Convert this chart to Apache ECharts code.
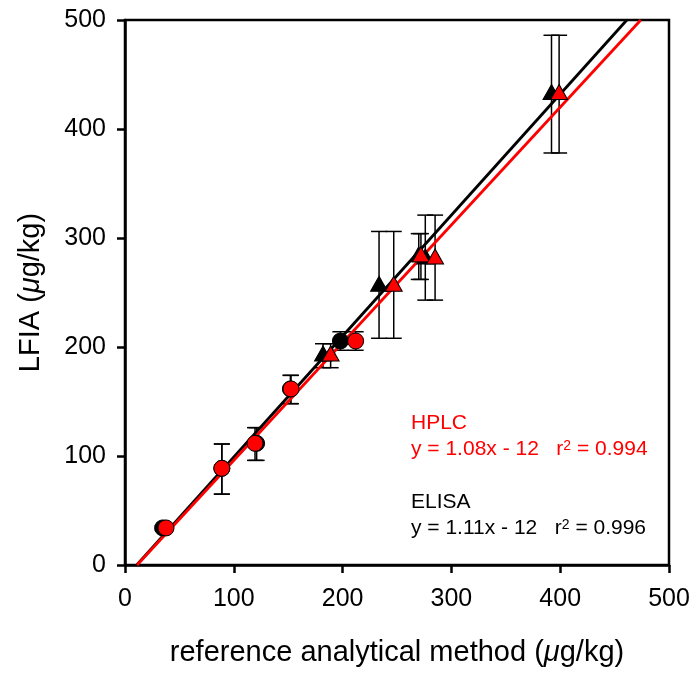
<!DOCTYPE html>
<html>
<head>
<meta charset="utf-8">
<script src="https://cdn.jsdelivr.net/npm/echarts@6/dist/echarts.min.js"></script>
<style>html,body{margin:0;padding:0;background:#fff}#c{width:697px;height:675px}</style>
</head>
<body>
<div id="c"></div>
<script>
// Circles (one sample set): LFIA value and error range, reference values by method
var circleLFIA = [34, 88.7, 111.6, 161.5, 205.5];
var circleErrLow = [32, 65, 96, 148, 197];
var circleErrHigh = [36, 111, 126, 174, 214];
var circleELISA = [34.6, 89, 121, 152, 198];
var circleHPLC = [37.7, 89, 119.5, 152.6, 212];

// Triangles (second sample set)
var triLFIA = [194, 258, 285, 283, 434];
var triErrLow = [181, 208, 262, 243, 378];
var triErrHigh = [203, 306, 304, 321, 486];
var triELISA = [182, 233.5, 270, 276, 392];
var triHPLC = [189, 247, 272, 285, 399];

// Regression fits (slope, intercept) from the chart annotation
var hplcFit = {slope: 1.08, intercept: -12};
var elisaFit = {slope: 1.11, intercept: -12};

var axisTicks = [0, 100, 200, 300, 400, 500];

var FONT = 'Liberation Sans, Arial, sans-serif';

function pairs(xs, ys) { return xs.map(function (x, i) { return [x, ys[i]]; }); }
function errs(xs, lo, hi) { return xs.map(function (x, i) { return [x, lo[i], hi[i]]; }); }
function fitLine(f) {
  var x0 = (0 - f.intercept) / f.slope;
  var x1 = (500 - f.intercept) / f.slope;
  return [[x0, 0], [x1, 500]];
}

var errData = []
  .concat(errs(circleELISA, circleErrLow, circleErrHigh))
  .concat(errs(circleHPLC, circleErrLow, circleErrHigh))
  .concat(errs(triELISA, triErrLow, triErrHigh))
  .concat(errs(triHPLC, triErrLow, triErrHigh));

function renderErr(params, api) {
  var x = api.value(0);
  var lo = api.coord([x, api.value(1)]);
  var hi = api.coord([x, api.value(2)]);
  var hw = 8;
  var st = {stroke: '#000', lineWidth: 1.5};
  return {
    type: 'group',
    children: [
      {type: 'line', shape: {x1: lo[0], y1: lo[1], x2: hi[0], y2: hi[1]}, style: st},
      {type: 'line', shape: {x1: lo[0] - hw, y1: lo[1], x2: lo[0] + hw, y2: lo[1]}, style: st},
      {type: 'line', shape: {x1: hi[0] - hw, y1: hi[1], x2: hi[0] + hw, y2: hi[1]}, style: st}
    ]
  };
}

var chart = echarts.init(document.getElementById('c'), null, {renderer: 'canvas'});

var axisCommon = {
  type: 'value', min: 0, max: 500, interval: 100,
  splitLine: {show: false},
  axisLine: {show: true, onZero: false, lineStyle: {color: '#000', width: 2.5}},
  axisTick: {show: true, inside: false, length: 8, lineStyle: {color: '#000', width: 2.5}},
  axisLabel: {color: '#000', fontSize: 25, fontFamily: FONT,
    formatter: function (v) { return axisTicks.indexOf(v) >= 0 ? String(v) : ''; }},
  nameLocation: 'middle',
  nameTextStyle: {color: '#000', fontSize: 29, fontFamily: FONT,
    rich: {i: {fontStyle: 'italic', fontSize: 29, fontFamily: FONT, color: '#000'}}}
};

function annot(top, text, color) {
  return {type: 'text', left: 411, top: top, style: {
    text: text, fill: color, fontSize: 21, fontFamily: FONT,
    rich: {s: {fontSize: 14, fontFamily: FONT, fill: color, color: color, verticalAlign: 'top', lineHeight: 14}}
  }};
}

var option = {
  backgroundColor: '#fff',
  animation: false,
  grid: {left: 125, right: 28, top: 20, bottom: 110, show: true, borderColor: '#000', borderWidth: 2.5, backgroundColor: 'transparent'},
  xAxis: Object.assign({}, axisCommon, {
    name: 'reference analytical method ({i|μ}g/kg)',
    nameGap: 73,
    axisLabel: Object.assign({}, axisCommon.axisLabel, {margin: 22})
  }),
  yAxis: Object.assign({}, axisCommon, {
    name: 'LFIA ({i|μ}g/kg)',
    nameGap: 80,
    axisLabel: Object.assign({}, axisCommon.axisLabel, {margin: 19})
  }),
  series: [
    {type: 'custom', name: 'err', renderItem: renderErr, data: errData, z: 2,
      encode: {x: 0, y: [1, 2]}, silent: true},
    {type: 'line', name: 'ELISA fit', data: fitLine(elisaFit), showSymbol: false, symbol: 'none',
      lineStyle: {color: '#000', width: 2.8}, z: 3},
    {type: 'line', name: 'HPLC fit', data: fitLine(hplcFit), showSymbol: false, symbol: 'none',
      lineStyle: {color: '#ff0000', width: 2.8}, z: 3},
    {type: 'scatter', name: 'ELISA circles', data: pairs(circleELISA, circleLFIA), symbol: 'circle', symbolSize: 16,
      itemStyle: {color: '#000', borderColor: '#000', borderWidth: 1, opacity: 1}, z: 4},
    {type: 'scatter', name: 'ELISA triangles', data: pairs(triELISA, triLFIA), symbol: 'triangle', symbolSize: [17, 15],
      itemStyle: {color: '#000', borderColor: '#000', borderWidth: 1, opacity: 1}, z: 4},
    {type: 'scatter', name: 'HPLC circles', data: pairs(circleHPLC, circleLFIA), symbol: 'circle', symbolSize: 16,
      itemStyle: {color: '#ff0000', borderColor: '#000', borderWidth: 1, opacity: 1}, z: 5},
    {type: 'scatter', name: 'HPLC triangles', data: pairs(triHPLC, triLFIA), symbol: 'triangle', symbolSize: [17, 15],
      itemStyle: {color: '#ff0000', borderColor: '#000', borderWidth: 1, opacity: 1}, z: 5}
  ],
  graphic: [
    annot(413, 'HPLC', '#ff0000'),
    annot(439, 'y = 1.08x - 12   r{s|2} = 0.994', '#ff0000'),
    annot(492, 'ELISA', '#000'),
    annot(518, 'y = 1.11x - 12   r{s|2} = 0.996', '#000')
  ]
};
chart.setOption(option);
</script>
</body>
</html>
